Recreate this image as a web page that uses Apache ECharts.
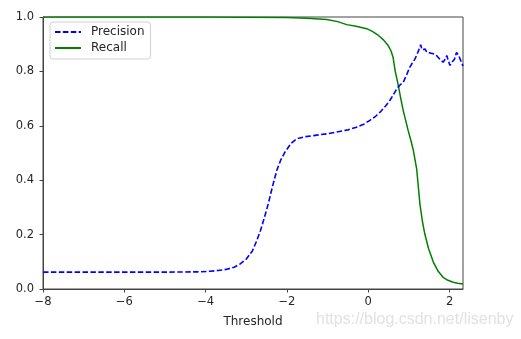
<!DOCTYPE html>
<html>
<head>
<meta charset="utf-8">
<script src="https://cdn.jsdelivr.net/npm/echarts@6/dist/echarts.min.js"></script>
<style>
  html, body { margin: 0; padding: 0; background: #fff; }
  #chart { width: 521px; height: 339px; }
</style>
</head>
<body>
<div id="chart"></div>
<script>
// Precision and recall as functions of the decision threshold
const precisionThresholds = [-8, -7, -6, -5, -4.2, -3.9, -3.7, -3.5, -3.3, -3.15, -3.0, -2.85, -2.75, -2.65, -2.55, -2.46, -2.35, -2.25, -2.15, -2.05, -1.9, -1.76, -1.55, -1.35, -1.0, -0.78, -0.5, -0.29, -0.1, 0.04, 0.18, 0.29, 0.42, 0.53, 0.62, 0.70, 0.78, 0.86, 0.95, 1.02, 1.08, 1.15, 1.22, 1.29, 1.32, 1.35, 1.40, 1.44, 1.47, 1.52, 1.56, 1.60, 1.65, 1.70, 1.72, 1.76, 1.80, 1.84, 1.88, 1.93, 1.97, 2.01, 2.05, 2.08, 2.12, 2.17, 2.22, 2.26, 2.29, 2.33];
const precisionValues = [0.062, 0.062, 0.062, 0.062, 0.063, 0.065, 0.068, 0.072, 0.08, 0.092, 0.11, 0.14, 0.175, 0.215, 0.265, 0.313, 0.38, 0.436, 0.475, 0.503, 0.535, 0.552, 0.56, 0.564, 0.571, 0.577, 0.585, 0.595, 0.607, 0.62, 0.635, 0.65, 0.672, 0.693, 0.715, 0.736, 0.75, 0.76, 0.79, 0.815, 0.83, 0.846, 0.87, 0.898, 0.88, 0.877, 0.882, 0.87, 0.877, 0.868, 0.874, 0.865, 0.862, 0.855, 0.858, 0.845, 0.85, 0.834, 0.842, 0.858, 0.84, 0.822, 0.832, 0.826, 0.845, 0.87, 0.86, 0.845, 0.834, 0.82];

const recallThresholds = [-8, -4, -3, -2, -1.5, -1.02, -0.75, -0.53, -0.3, -0.04, 0.1, 0.25, 0.38, 0.49, 0.56, 0.61, 0.66, 0.74, 0.80, 0.86, 0.92, 0.98, 1.05, 1.11, 1.19, 1.27, 1.33, 1.39, 1.48, 1.60, 1.72, 1.84, 1.96, 2.09, 2.2, 2.33];
const recallValues = [1.0, 1.0, 0.9995, 0.998, 0.995, 0.991, 0.983, 0.972, 0.966, 0.957, 0.947, 0.932, 0.915, 0.895, 0.875, 0.852, 0.803, 0.748, 0.70, 0.656, 0.62, 0.583, 0.545, 0.509, 0.442, 0.313, 0.25, 0.203, 0.15, 0.099, 0.065, 0.043, 0.032, 0.025, 0.021, 0.018];

const seriesNames = ['Precision', 'Recall'];
const xAxisName = 'Threshold';
const watermark = 'https://blog.csdn.net/lisenby';

const pair = (xs, ys) => xs.map((x, i) => [x, ys[i]]);
const font = 'DejaVu Sans';
const spine = '#444';
const ink = '#262626';

const chart = echarts.init(document.getElementById('chart'), null, { renderer: 'canvas' });
chart.setOption({
  animation: false,
  backgroundColor: '#fff',
  textStyle: { fontFamily: font },
  grid: {
    left: 43, right: 58, top: 17, bottom: 50,
    show: true, borderColor: spine, borderWidth: 1, backgroundColor: 'transparent'
  },
  legend: {
    orient: 'vertical',
    left: 50, top: 22,
    data: seriesNames,
    itemWidth: 26, itemHeight: 14, itemGap: 4,
    padding: [4, 6, 5, 4],
    backgroundColor: '#fff',
    borderColor: '#d0d0d0', borderWidth: 1, borderRadius: 3,
    itemStyle: { opacity: 0 },
    textStyle: { fontFamily: font, fontSize: 12, color: ink, padding: [0, 0, 0, 5] }
  },
  xAxis: {
    type: 'value',
    min: -8, max: 2.33, interval: 2,
    name: xAxisName, nameLocation: 'middle', nameGap: 27,
    nameTextStyle: { fontFamily: font, fontSize: 12, color: ink },
    axisLine: { show: true, onZero: false, lineStyle: { color: spine, width: 1 } },
    axisTick: { show: true, length: 3.5, lineStyle: { color: spine } },
    axisLabel: {
      showMaxLabel: false, margin: 7, fontFamily: font, fontSize: 11.5, color: ink,
      formatter: v => String(v).replace('-', '\u2212')
    },
    splitLine: { show: false }
  },
  yAxis: {
    type: 'value',
    min: 0, max: 1, interval: 0.2,
    axisLine: { show: true, onZero: false, lineStyle: { color: spine, width: 1 } },
    axisTick: { show: true, length: 3.5, lineStyle: { color: spine } },
    axisLabel: {
      margin: 9, fontFamily: font, fontSize: 11.5, color: ink,
      formatter: v => v.toFixed(1)
    },
    splitLine: { show: false }
  },
  series: [
    {
      name: seriesNames[0], type: 'line', symbol: 'none',
      data: pair(precisionThresholds, precisionValues),
      itemStyle: { color: '#0000ff' },
      lineStyle: { color: '#0000ff', width: 1.6, type: [5.5, 2.4] },
      z: 3
    },
    {
      name: seriesNames[1], type: 'line', symbol: 'none',
      data: pair(recallThresholds, recallValues),
      itemStyle: { color: '#008000' },
      lineStyle: { color: '#008000', width: 1.5 },
      z: 2
    }
  ],
  graphic: [{
    type: 'text', left: 316, top: 312,
    style: { text: watermark, fontFamily: 'Liberation Sans', fontSize: 16, fill: '#e2e2e2' }
  }]
});
</script>
</body>
</html>
